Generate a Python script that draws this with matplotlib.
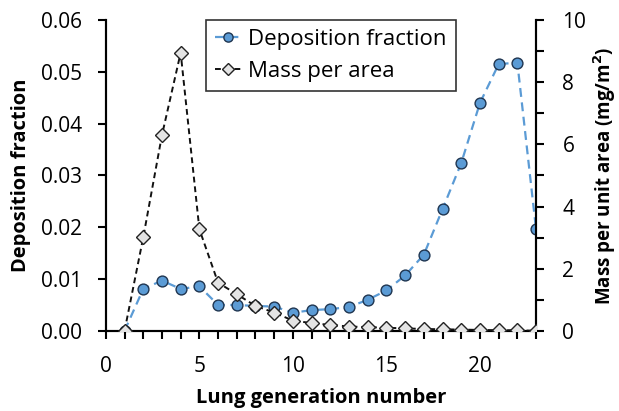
import matplotlib
matplotlib.use("Agg")
import matplotlib.pyplot as plt
from matplotlib.ticker import MultipleLocator, FormatStrFormatter

plt.rcParams['font.family'] = ['Open Sans', 'DejaVu Sans']

generation = list(range(1, 24))
deposition_fraction = [0.0, 0.0081, 0.0097, 0.0081, 0.0086, 0.0050, 0.0050, 0.0048,
                       0.0047, 0.0035, 0.0040, 0.0042, 0.0046, 0.0060, 0.0078, 0.0107,
                       0.0147, 0.0235, 0.0324, 0.0440, 0.0515, 0.0518, 0.0196]
mass_per_area = [0.0, 3.01, 6.3, 8.95, 3.27, 1.55, 1.18, 0.80, 0.59, 0.33, 0.25, 0.19,
                 0.14, 0.12, 0.10, 0.08, 0.06, 0.05, 0.04, 0.03, 0.02, 0.02, 0.0]

fig = plt.figure(figsize=(6.19, 4.11), dpi=100)
ax = fig.add_axes([0.171, 0.195, 0.695, 0.756])
ax2 = ax.twinx()

blue = '#5b9bd5'
l1, = ax.plot(generation, deposition_fraction, linestyle=(0, (4, 2.5)), color=blue, lw=1.6,
              marker='o', markersize=7.8, markerfacecolor=blue, markeredgecolor='#1f3550',
              markeredgewidth=1.0, label='Deposition fraction', zorder=3)
l2, = ax2.plot(generation, mass_per_area, linestyle=(0, (3, 2)), color='#111111', lw=1.4,
               marker='D', markersize=7, markerfacecolor='#e4e4e4', markeredgecolor='#222222',
               markeredgewidth=1.0, label='Mass per area', zorder=3)

ax.set_xlim(0, 23)
ax.set_ylim(0, 0.06)
ax2.set_ylim(0, 10)

ax.xaxis.set_major_locator(MultipleLocator(5))
ax.xaxis.set_minor_locator(MultipleLocator(1))
ax.yaxis.set_major_locator(MultipleLocator(0.01))
ax.yaxis.set_major_formatter(FormatStrFormatter('%.2f'))
ax2.yaxis.set_major_locator(MultipleLocator(2))
ax2.yaxis.set_minor_locator(MultipleLocator(1))

for a in (ax, ax2):
    a.spines['top'].set_visible(False)
    for s in a.spines.values():
        s.set_linewidth(1.5)
        s.set_color('black')

ax.tick_params(axis='y', which='major', direction='out', length=6, width=1.5, labelsize=15, pad=11)
ax.tick_params(axis='x', which='major', direction='out', length=6, width=1.5, labelsize=15, pad=12)
ax.tick_params(axis='x', which='minor', direction='out', length=6, width=1.5)
ax2.tick_params(axis='y', which='both', direction='out', length=6, width=1.5, labelsize=15, pad=13)

ax.set_xlabel('Lung generation number', fontsize=14.5, fontweight='bold', labelpad=8)
ax.set_ylabel('Deposition fraction', fontsize=14.5, fontweight='bold', labelpad=7)
ax2.set_ylabel('Mass per unit area (mg/m$^\\mathbf{2}$)', fontsize=13.5, fontweight='bold', labelpad=4)

leg = ax.legend(handles=[l1, l2], loc='upper left', bbox_to_anchor=(0.233, 1.0),
                borderaxespad=0.0,
                fontsize=16, frameon=True, fancybox=False, edgecolor='black',
                handlelength=1.2, handletextpad=0.3, borderpad=0.4, labelspacing=0.5,
                markerscale=0.85)
leg.get_frame().set_linewidth(1.2)
leg.set_zorder(10)

fig.savefig('out.png', dpi=100)
